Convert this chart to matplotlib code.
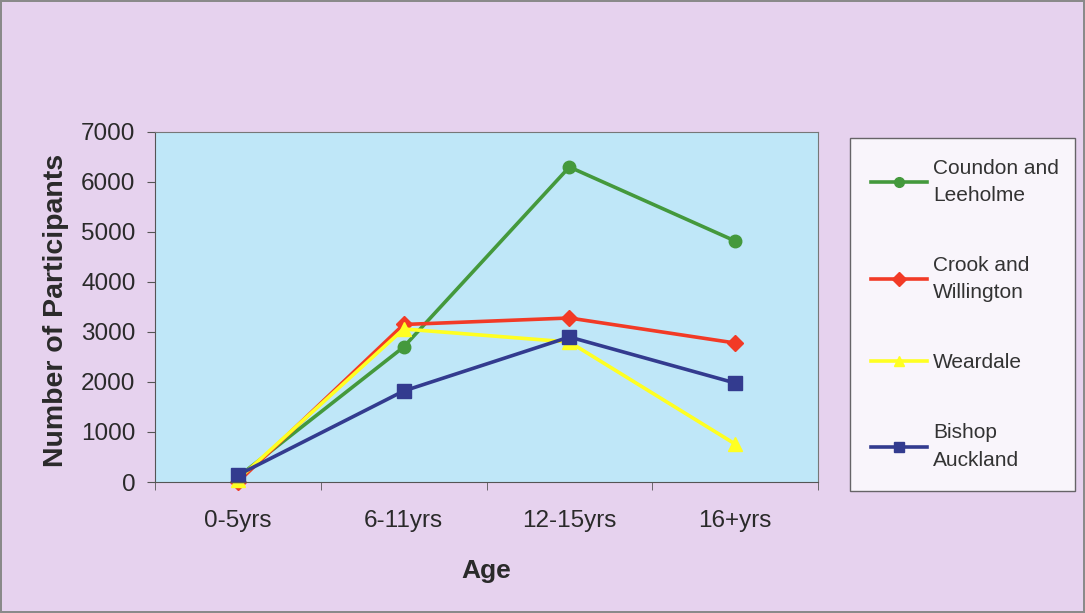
import matplotlib
matplotlib.use("Agg")
import matplotlib.pyplot as plt
from matplotlib.ticker import FixedLocator

plt.rcParams['font.family'] = ['Liberation Sans', 'DejaVu Sans']

# data
ages = ["0-5yrs", "6-11yrs", "12-15yrs", "16+yrs"]
coundon = [100, 2700, 6300, 4820]
crook = [0, 3150, 3280, 2780]
weardale = [50, 3060, 2800, 760]
bishop = [140, 1820, 2900, 1980]

series = [
    ("Coundon and\nLeeholme", coundon, "#44993c", "o", 9),
    ("Crook and\nWillington", crook, "#f23a26", "D", 8),
    ("Weardale", weardale, "#ffff22", "^", 10),
    ("Bishop\nAuckland", bishop, "#333b8f", "s", 10),
]

fig = plt.figure(figsize=(10.85, 6.13), dpi=100)
fig.patch.set_facecolor("#e6d2ee")
fig.patch.set_edgecolor("#8a8a8a")
fig.patch.set_linewidth(1.5)

ax = fig.add_axes([0.1429, 0.2137, 0.611, 0.571])
ax.set_facecolor("#bfe7f8")

x = list(range(len(ages)))
for label, vals, color, marker, ms in series:
    ax.plot(x, vals, color=color, lw=2.6, marker=marker, ms=ms,
            markeredgecolor=color, label=label, clip_on=False)

ax.set_xlim(-0.5, 3.5)
ax.set_ylim(0, 7000)
ax.set_yticks(range(0, 7001, 1000))
ax.set_xticks(x)
ax.set_xticklabels(ages)
ax.xaxis.set_minor_locator(FixedLocator([-0.5, 0.5, 1.5, 2.5, 3.5]))
ax.tick_params(axis="x", which="major", length=0, pad=20, labelsize=17.5, labelcolor="#2a2a2a")
ax.tick_params(axis="x", which="minor", length=6, direction="out", color="#555555")
ax.tick_params(axis="y", length=6, direction="out", labelsize=17.5, labelcolor="#2a2a2a",
               color="#555555", pad=8)

for side in ["left", "bottom"]:
    ax.spines[side].set_color("#555555")
for side in ["top", "right"]:
    ax.spines[side].set_color("#777777")

ax.set_xlabel("Age", fontsize=19, fontweight="bold", color="#2a2a2a", va="top")
ax.xaxis.set_label_coords(0.5, -0.22)
ax.set_ylabel("Number of Participants", fontsize=20.5, fontweight="bold", color="#2a2a2a")
ax.yaxis.set_label_coords(-0.13, 0.49)

leg = ax.legend(loc="upper left", bbox_to_anchor=(850 / 1085, 1 - 490 / 613, 225 / 1085, 352 / 613),
                bbox_transform=fig.transFigure, mode="expand", frameon=True, fancybox=False,
                fontsize=15, labelspacing=2.45, handlelength=2.7, handletextpad=0.3,
                borderpad=1.0, borderaxespad=0)
leg.get_frame().set_edgecolor("#444444")
leg.get_frame().set_facecolor("white")
leg.get_frame().set_linewidth(1.0)
for t in leg.get_texts():
    t.set_color("#333333")
    t.set_linespacing(1.55)
for h in leg.legend_handles:
    h.set_markersize(7)
    h.set_linewidth(2.6)

fig.savefig("out.png", dpi=100, facecolor=fig.get_facecolor(), edgecolor=fig.get_edgecolor())
